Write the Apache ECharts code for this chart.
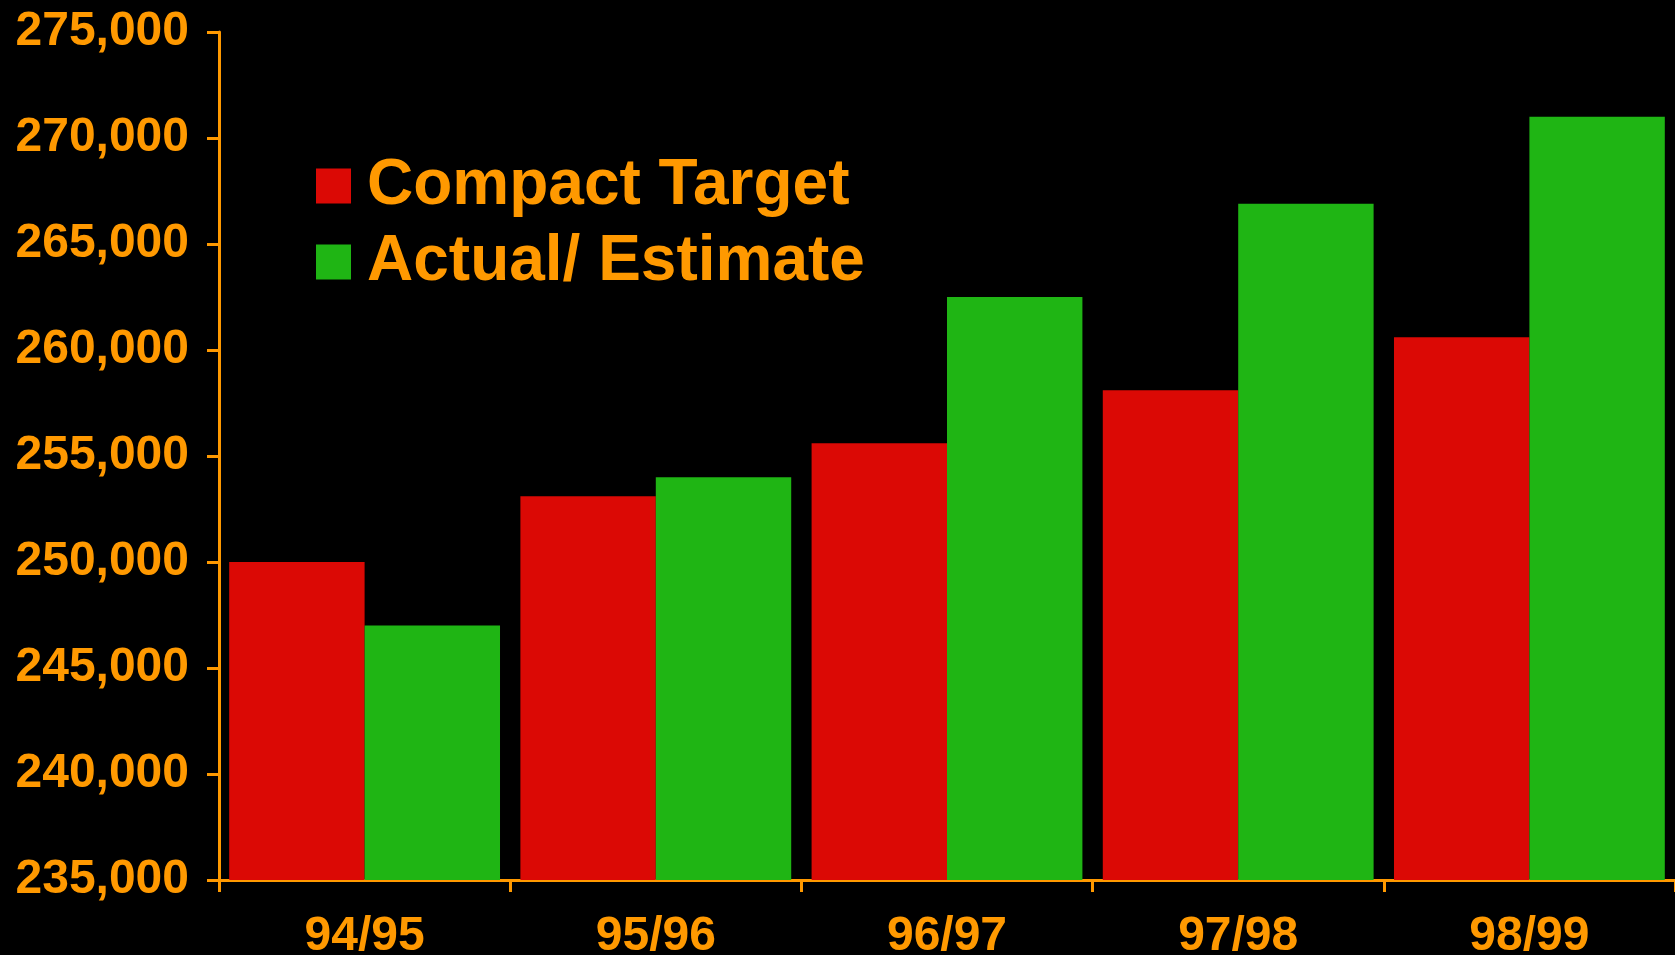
<!DOCTYPE html>
<html>
<head>
<meta charset="utf-8">
<title>Compact Target vs Actual/ Estimate</title>
<script src="https://cdn.jsdelivr.net/npm/echarts@6/dist/echarts.min.js"></script>
<style>
  html, body { margin: 0; padding: 0; background: #000; }
  #chart { width: 1675px; height: 955px; }
</style>
</head>
<body>
<div id="chart"></div>
<script>
// Financial years on the category axis
const years = ['94/95', '95/96', '96/97', '97/98', '98/99'];

// Series values
const compactTarget = [250000, 253100, 255600, 258100, 260600];
const actualEstimate = [247000, 254000, 262500, 266900, 271000];

// Value-axis range and step
const yMin = 235000;
const yMax = 275000;
const yStep = 5000;

const ORANGE = '#FF9900';
const RED = '#DB0905';
const GREEN = '#1FB514';
const FONT = '"Liberation Sans", Arial, Helvetica, sans-serif';

const chart = echarts.init(document.getElementById('chart'), null, { renderer: 'canvas' });

chart.setOption({
  backgroundColor: '#000000',
  animation: false,
  grid: {
    left: 219,
    right: 0,
    top: 32,
    bottom: 75,
    containLabel: false,
    outerBoundsMode: 'none'
  },
  legend: {
    orient: 'vertical',
    left: 316,
    top: 154,
    padding: 0,
    itemWidth: 35,
    itemHeight: 35,
    itemGap: 12,
    icon: 'rect',
    textStyle: {
      color: ORANGE,
      fontFamily: FONT,
      fontWeight: 'bold',
      fontSize: 64,
      lineHeight: 46,
      padding: [0, 0, 18, 11]
    },
    data: ['Compact Target', 'Actual/ Estimate']
  },
  xAxis: {
    type: 'category',
    data: years,
    boundaryGap: true,
    axisLine: { lineStyle: { color: ORANGE, width: 3 } },
    axisTick: { show: true, length: 12, lineStyle: { color: ORANGE, width: 3 } },
    axisLabel: {
      color: ORANGE,
      fontFamily: FONT,
      fontWeight: 'bold',
      fontSize: 48,
      margin: 33
    },
    splitLine: { show: false }
  },
  yAxis: {
    type: 'value',
    min: yMin,
    max: yMax,
    interval: yStep,
    axisLine: { show: true, lineStyle: { color: ORANGE, width: 3 } },
    axisTick: { show: true, length: 12, lineStyle: { color: ORANGE, width: 3 } },
    axisLabel: {
      color: ORANGE,
      fontFamily: FONT,
      fontWeight: 'bold',
      fontSize: 48,
      margin: 30,
      formatter: v => v.toLocaleString('en-US')
    },
    splitLine: { show: false }
  },
  series: [
    {
      name: 'Compact Target',
      type: 'bar',
      data: compactTarget,
      itemStyle: { color: RED },
      barGap: '0%',
      barCategoryGap: '7%'
    },
    {
      name: 'Actual/ Estimate',
      type: 'bar',
      data: actualEstimate,
      itemStyle: { color: GREEN },
      barGap: '0%',
      barCategoryGap: '7%'
    }
  ]
});
</script>
</body>
</html>
